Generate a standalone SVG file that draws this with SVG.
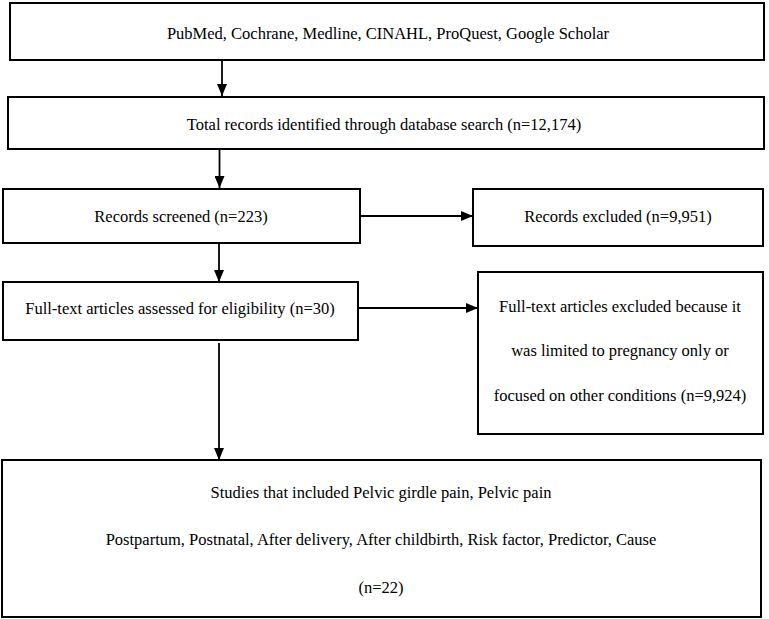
<svg xmlns="http://www.w3.org/2000/svg" width="769" height="619" viewBox="0 0 769 619">
<defs>
<style>
.box{fill:#fff;stroke:#000;stroke-width:2}
.t{font-family:"Liberation Serif","Times New Roman",serif;font-size:16.5px;fill:#000;text-anchor:middle}
.c{stroke:#000;stroke-width:1.8;fill:none;marker-end:url(#ah)}
</style>
<marker id="ah" viewBox="0 0 12 10" refX="12" refY="5" markerWidth="12" markerHeight="10" markerUnits="userSpaceOnUse" orient="auto">
<path d="M0,0 L12,5 L0,10 z" fill="#000"/>
</marker>
</defs>
<rect width="769" height="619" fill="#fff"/>
<g id="connectors">
<line class="c" x1="222" y1="61" x2="222" y2="96"/>
<line class="c" x1="219.5" y1="150" x2="219.5" y2="188"/>
<line class="c" x1="361" y1="216" x2="473" y2="216"/>
<line class="c" x1="219" y1="244" x2="219" y2="282"/>
<line class="c" x1="359" y1="308" x2="478" y2="308"/>
<line class="c" x1="219" y1="343" x2="219" y2="460"/>
</g>
<g id="n1">
<rect class="box" x="10" y="3" width="754" height="57"/>
<text class="t" x="388" y="39">PubMed, Cochrane, Medline, CINAHL, ProQuest, Google Scholar</text>
</g>
<g id="n2">
<rect class="box" x="8" y="97" width="756" height="52"/>
<text class="t" x="384" y="130">Total records identified through database search (n=12,174)</text>
</g>
<g id="n3">
<rect class="box" x="3" y="189" width="357" height="54"/>
<text class="t" x="181" y="222">Records screened (n=223)</text>
</g>
<g id="n4">
<rect class="box" x="473" y="189" width="290" height="57"/>
<text class="t" x="618" y="222">Records excluded (n=9,951)</text>
</g>
<g id="n5">
<rect class="box" x="3" y="282" width="355" height="58"/>
<text class="t" x="180" y="314">Full-text articles assessed for eligibility (n=30)</text>
</g>
<g id="n6">
<rect class="box" x="478" y="272" width="285" height="162"/>
<text class="t" x="620" y="312">Full-text articles excluded because it</text>
<text class="t" x="620" y="356">was limited to pregnancy only or</text>
<text class="t" x="620" y="401">focused on other conditions (n=9,924)</text>
</g>
<g id="n7">
<rect class="box" x="2" y="460" width="759" height="157"/>
<text class="t" x="381" y="498">Studies that included Pelvic girdle pain, Pelvic pain</text>
<text class="t" x="381" y="545">Postpartum, Postnatal, After delivery, After childbirth, Risk factor, Predictor, Cause</text>
<text class="t" x="381" y="593">(n=22)</text>
</g>
</svg>
